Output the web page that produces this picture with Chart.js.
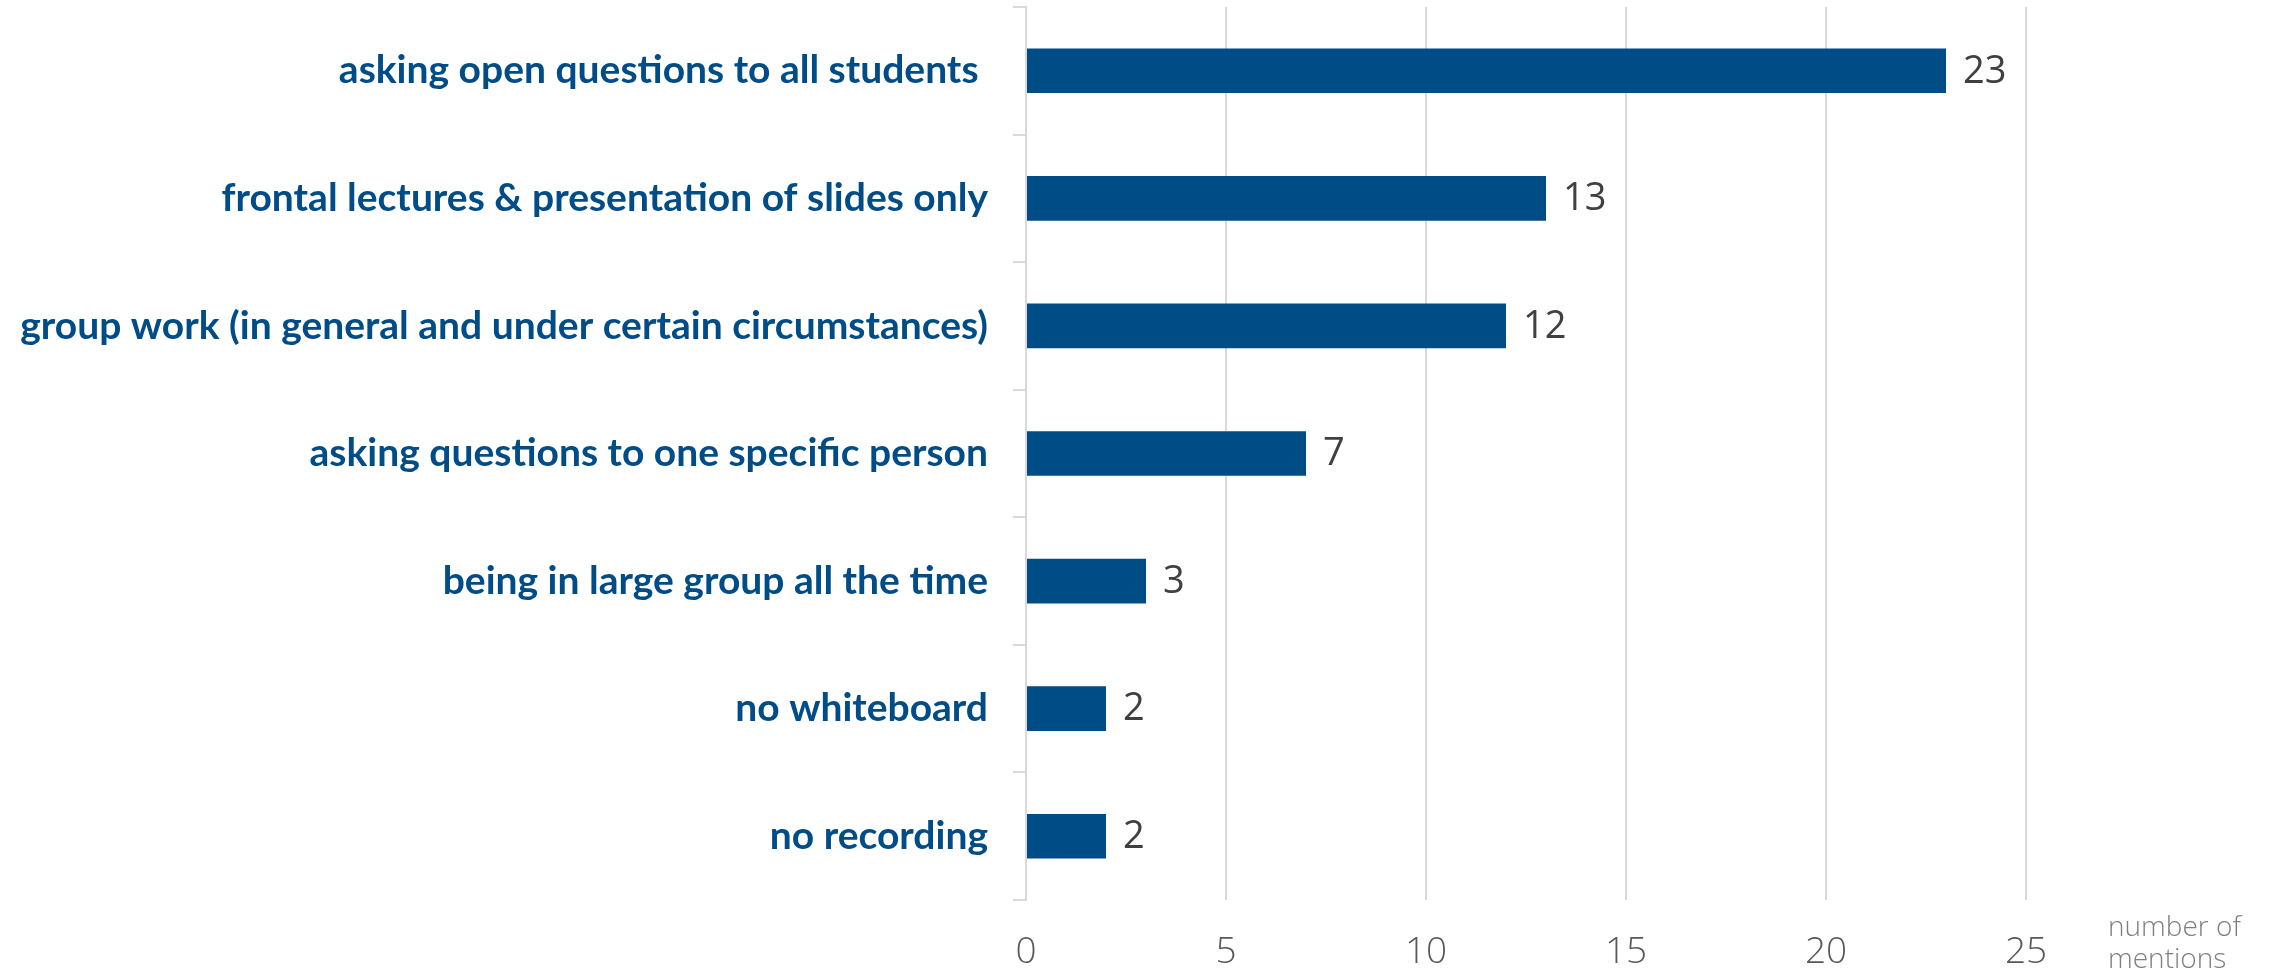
<!DOCTYPE html>
<html>
<head>
<meta charset="utf-8">
<script src="https://cdn.jsdelivr.net/npm/chart.js@4"></script>
<style>
  html, body { margin: 0; padding: 0; background: #fff; }
  #wrap { width: 2269px; height: 974px; }
</style>
</head>
<body>
<div id="wrap"><canvas id="myChart1"></canvas></div>
<script>
var labels = [
  "asking open questions to all students ",
  "frontal lectures & presentation of slides only",
  "group work (in general and under certain circumstances)",
  "asking questions to one specific person",
  "being in large group all the time",
  "no whiteboard",
  "no recording"
];
var mentions = [23, 13, 12, 7, 3, 2, 2];
var axisTitle = ["number of", "mentions"];

// numbers printed just right of each bar
var barValues = {
  id: "barValues",
  afterDatasetsDraw: function (chart) {
    var ctx = chart.ctx;
    var meta = chart.getDatasetMeta(0);
    ctx.save();
    ctx.font = "38px 'Open Sans'";
    ctx.fillStyle = "#404040";
    ctx.textAlign = "left";
    ctx.textBaseline = "middle";
    meta.data.forEach(function (bar, i) {
      ctx.fillText(String(chart.data.datasets[0].data[i]), bar.x + 17, bar.y + 1);
    });
    ctx.restore();
  },
};

// two-line axis caption at the bottom right
var axisCaption = {
  id: "axisCaption",
  afterDraw: function (chart) {
    var ctx = chart.ctx;
    var x = chart.scales.x;
    ctx.save();
    ctx.font = "300 28px 'Open Sans'";
    ctx.fillStyle = "#808080";
    ctx.textAlign = "left";
    ctx.textBaseline = "middle";
    ctx.fillText(axisTitle[0], x.right + 82, x.top + 28);
    ctx.fillText(axisTitle[1], x.right + 82, x.top + 60);
    ctx.restore();
  },
};

new Chart(document.getElementById("myChart1"), {
  type: "bar",
  data: {
    labels: labels,
    datasets: [
      {
        label: "mentions",
        backgroundColor: "#004c87",
        data: mentions,
        barPercentage: 0.35,
        categoryPercentage: 1,
      },
    ],
  },
  plugins: [barValues, axisCaption],
  options: {
    indexAxis: "y",
    responsive: true,
    maintainAspectRatio: false,
    animation: false,
    layout: {
      padding: { top: 7, right: 243, left: 0, bottom: 0 },
    },
    plugins: {
      legend: { display: false },
      tooltip: { enabled: false },
    },
    scales: {
      x: {
        min: 0,
        max: 25,
        border: { display: false },
        grid: {
          color: "#d9d9d9",
          lineWidth: 2,
          drawTicks: false,
        },
        ticks: {
          stepSize: 5,
          padding: 30,
          color: "#595959",
          font: { family: "'Open Sans'", size: 37, weight: 300 },
        },
        afterFit: function (scale) {
          scale.height = 74;
        },
      },
      y: {
        border: { color: "#d9d9d9", width: 2 },
        grid: {
          drawOnChartArea: false,
          color: "#d9d9d9",
          lineWidth: 2,
          tickLength: 13,
        },
        ticks: {
          padding: 25,
          color: "#004c87",
          font: { family: "Lato", size: 39, weight: "bold" },
        },
        afterFit: function (scale) {
          scale.width = 1026;
          scale.paddingTop = 0;
          scale.paddingBottom = 0;
        },
      },
    },
  },
});
</script>
</body>
</html>
